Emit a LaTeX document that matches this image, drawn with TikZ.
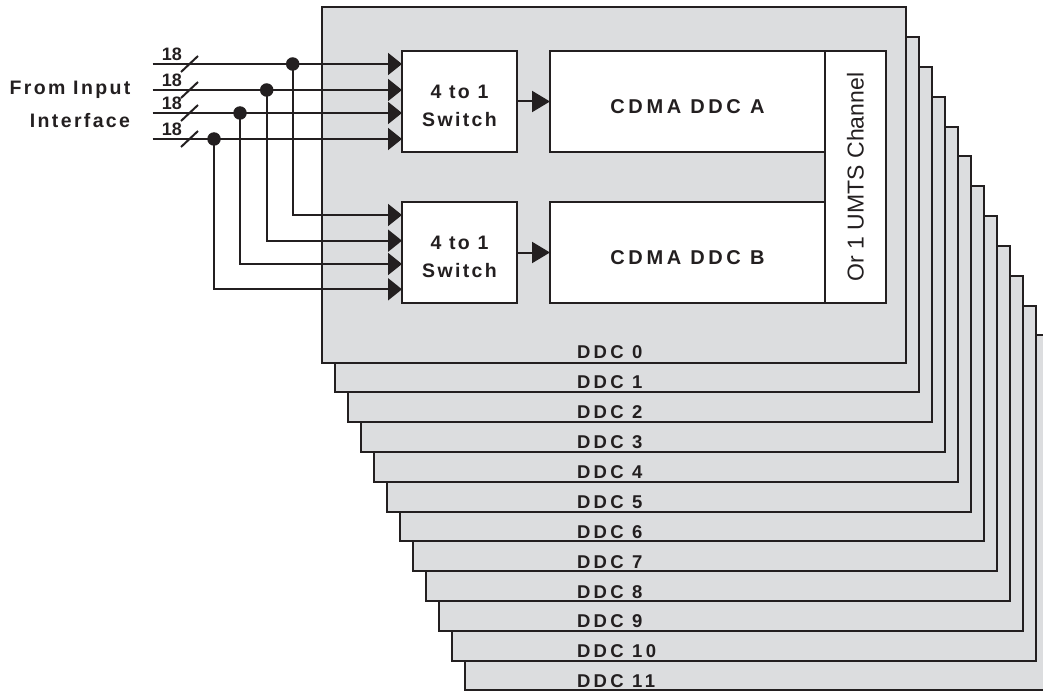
\documentclass[tikz,border=0pt]{standalone}
\usepackage{fontspec}
\setmainfont{Liberation Sans}
\newfontfamily\spaced[LetterSpace=18]{Liberation Sans}
\newfontfamily\spacedm[LetterSpace=12]{Liberation Sans}
\usetikzlibrary{arrows.meta}
\definecolor{ink}{RGB}{35,31,32}
\definecolor{panel}{RGB}{220,221,223}
\begin{document}
\begin{tikzpicture}[x=1pt,y=-1pt,
  every node/.style={inner sep=0pt, outer sep=0pt},
  ddcbox/.style={draw=ink, line width=2pt, fill=panel, minimum width=584pt, minimum height=355pt, anchor=north west},
  wbox/.style={draw=ink, line width=2pt, fill=white},
  ddclabel/.style={font=\spaced\bfseries\fontsize{18.5}{22}\selectfont, text=ink},
  lbl/.style={font=\spacedm\bfseries\fontsize{19.5}{27.6}\selectfont, text=ink, align=center},
  swtext/.style={lbl, text height=49.4pt},
  cdma/.style={font=\spaced\bfseries\fontsize{20}{22}\selectfont, text=ink, text height=24.5pt},
  num/.style={font=\bfseries\fontsize{18}{20}\selectfont, text=ink},
  wire/.style={draw=ink, line width=2pt},
  inarrow/.style={wire, -{Triangle[length=14pt,width=22pt]}},
  bigarrow/.style={wire, -{Triangle[length=18pt,width=21pt]}},
  jdot/.style={circle, fill=ink, minimum size=13.5pt},
]
\useasboundingbox (0,0) rectangle (1043,695);
\clip (0,0) rectangle (1043,695);
% stacked DDC panels
\foreach \i in {11,10,...,0} {
  \node[ddcbox] (ddc\i) at ({322+13*\i},{7.5+29.8*\i}) {};
  \node[ddclabel, anchor=west] (ddclbl\i) at (577,{352.5+29.9*\i}) {DDC \i};
}
% inner blocks
\node[wbox, swtext, minimum width=115pt, minimum height=101pt] (swA) at (459.5,101.5) {4 to 1\\Switch};
\node[wbox, swtext, minimum width=115pt, minimum height=101pt] (swB) at (459.5,252.5) {4 to 1\\Switch};
\node[wbox, cdma, minimum width=275pt, minimum height=101pt] (ddcA) at (687.5,101.5) {CDMA DDC A};
\node[wbox, cdma, minimum width=275pt, minimum height=101pt] (ddcB) at (687.5,252.5) {CDMA DDC B};
\node[wbox, minimum width=61pt, minimum height=252pt, text=ink] (umts) at (855.5,177) {\rotatebox{90}{\fontsize{23}{25}\selectfont Or 1 UMTS Channel}};
\draw[bigarrow] (swA.east) -- (ddcA.west);
\draw[bigarrow] (swB.east) -- (ddcB.west);
% inputs
\node[lbl] (from) at (70,90) {From Input};
\node[lbl] (iface) at (80,121) {Interface};
\foreach \k/\y/\jx/\by in {1/64/292.7/215, 2/90/266.7/240.7, 3/113/240/264, 4/139/214/289.3} {
  \coordinate (in\k) at (152.7,\y);
  \coordinate (jc\k) at (\jx,\y);
  \coordinate (b\k) at (402,\by);
  \draw[inarrow] (in\k) -- (in\k -| swA.west);
  \draw[inarrow] (jc\k) |- (b\k);
  \draw[wire] (181,{\y+8}) -- (198,{\y-8});
  \node[num] (n\k) at (172,{\y-9.5}) {18};
}
\foreach \k in {1,...,4} {
  \node[jdot] (j\k) at (jc\k) {};
}
\end{tikzpicture}
\end{document}
